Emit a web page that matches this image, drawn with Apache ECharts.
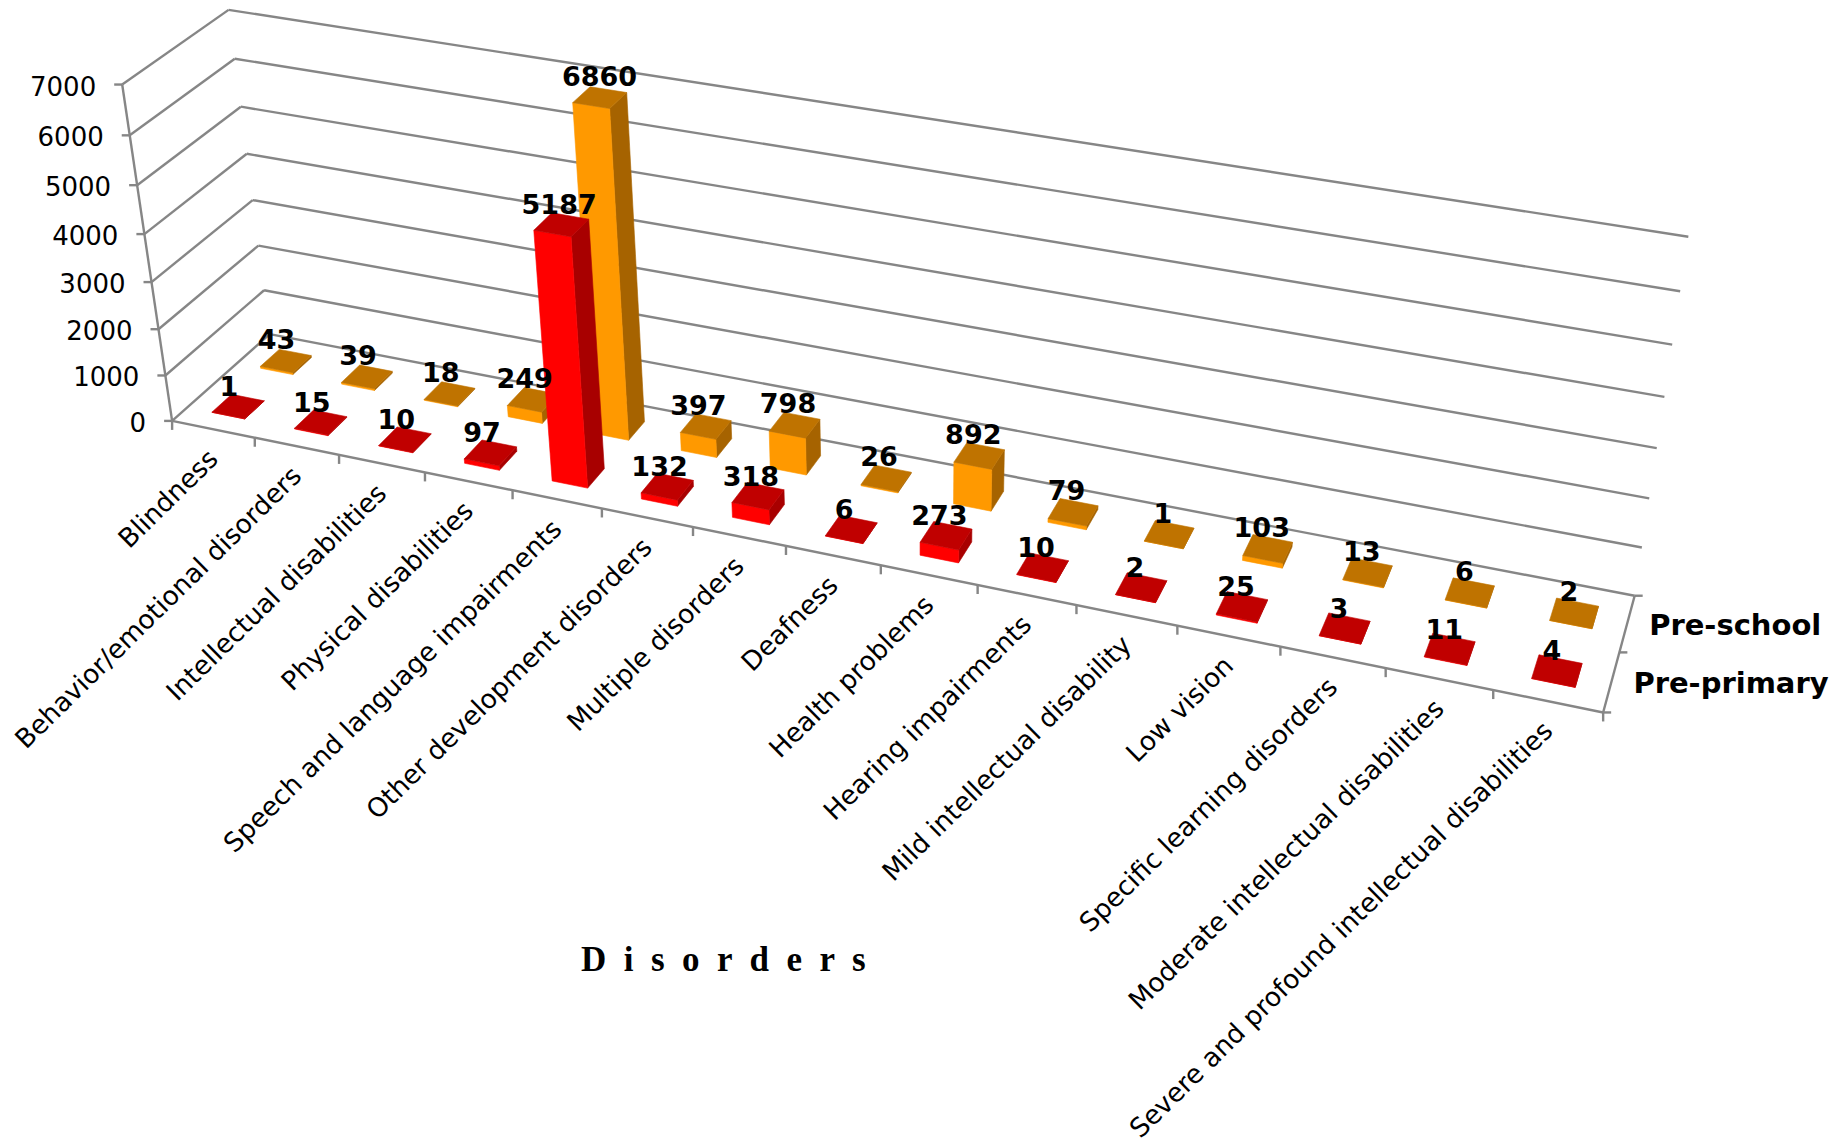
<!DOCTYPE html>
<html>
<head>
<meta charset="utf-8">
<title>Disorders by school level</title>
<script src="https://cdn.jsdelivr.net/npm/echarts@6/dist/echarts.min.js"></script>
<style>html,body{margin:0;padding:0;background:#fff}#chart{width:1837px;height:1144px}</style>
</head>
<body>
<div id="chart"></div>
<script>
const categories = [
  'Blindness', 'Behavior/emotional disorders', 'Intellectual disabilities',
  'Physical disabilities', 'Speech and language impairments',
  'Other development disorders', 'Multiple disorders', 'Deafness',
  'Health problems', 'Hearing impairments', 'Mild intellectual disability',
  'Low vision', 'Specific learning disorders',
  'Moderate intellectual disabilities',
  'Severe and profound intellectual disabilities'
];
const prePrimary = [1, 15, 10, 97, 5187, 132, 318, 6, 273, 10, 2, 25, 3, 11, 4];
const preSchool = [43, 39, 18, 249, 6860, 397, 798, 26, 892, 79, 1, 103, 13, 6, 2];
const valueTicks = [0, 1000, 2000, 3000, 4000, 5000, 6000, 7000];
const depthNames = ['Pre-primary', 'Pre-school'];
const axisTitle = 'D  i  s  o  r  d  e  r  s';

// Box corners of the plot on screen: [along, depth, height] -> [px, py]
const boxAnchors = [
  [[0, 0, 0], [171.7, 420.7]], [[1, 0, 0], [1603.3, 712.3]],
  [[0, 1, 0], [270, 335]], [[1, 1, 0], [1634.3, 596]],
  [[0, 0, 1], [122.3, 85]], [[0, 1, 1], [228.3, 10]], [[1, 1, 1], [1688.3, 236.7]],
  [[0, 0, 3 / 7], [151.7, 282]], [[0, 1, 3 / 7], [252.7, 199]], [[1, 1, 3 / 7], [1657, 448]]
];

// Least-squares fit of a 3x4 camera matrix to the box corners
function fitCamera(anchors) {
  const rows = [], rhs = [];
  anchors.forEach(([[X, Y, Z], [x, y]]) => {
    rows.push([X, Y, Z, 1, 0, 0, 0, 0, -x * X, -x * Y, -x * Z]); rhs.push(x);
    rows.push([0, 0, 0, 0, X, Y, Z, 1, -y * X, -y * Y, -y * Z]); rhs.push(y);
  });
  const n = 11;
  const m = [];
  for (let i = 0; i < n; i++) {
    m[i] = [];
    for (let j = 0; j < n; j++) m[i][j] = rows.reduce((s, r) => s + r[i] * r[j], 0);
    m[i][n] = rows.reduce((s, r, k) => s + r[i] * rhs[k], 0);
  }
  for (let c = 0; c < n; c++) {
    let best = c;
    for (let r = c + 1; r < n; r++) if (Math.abs(m[r][c]) > Math.abs(m[best][c])) best = r;
    [m[c], m[best]] = [m[best], m[c]];
    for (let r = 0; r < n; r++) {
      if (r === c) continue;
      const f = m[r][c] / m[c][c];
      for (let k = c; k <= n; k++) m[r][k] -= f * m[c][k];
    }
  }
  return m.map((row, i) => row[n] / row[i]);
}
const cam = fitCamera(boxAnchors);
function project(u, v, w) {
  const d = cam[8] * u + cam[9] * v + cam[10] * w + 1;
  return [
    (cam[0] * u + cam[1] * v + cam[2] * w + cam[3]) / d,
    (cam[4] * u + cam[5] * v + cam[6] * w + cam[7]) / d
  ];
}

const GRID_LINE = '#868686';
const FONT = '"DejaVu Sans", Verdana, sans-serif';
const FACE = [
  { front: '#FF0000', top: '#C00000', side: '#A80000' },
  { front: '#FF9900', top: '#BF7300', side: '#A66300' }
];
const BAR_HALF = 0.2;      // half bar width, in category bands
const BAR_DEPTH = 0.2;     // bar depth, as part of the whole floor depth

function line(a, b) {
  return {
    type: 'line',
    shape: { x1: a[0], y1: a[1], x2: b[0], y2: b[1] },
    style: { stroke: GRID_LINE, lineWidth: 2.4, fill: null },
    silent: true
  };
}
function face(points, color) {
  return {
    type: 'polygon',
    shape: { points },
    style: { fill: color, stroke: color, lineWidth: 0.6 }
  };
}
// Converts library scale output into box units
function boxPos(params, api, cat, value) {
  const rect = params.coordSys;
  const p = api.coord([cat, value]);
  const band = api.size([1, 0])[0] / rect.width;
  return {
    u: (p[0] - rect.x) / rect.width,
    w: (rect.y + rect.height - p[1]) / rect.height,
    band
  };
}

function renderBar(depthIndex) {
  const colors = FACE[depthIndex];
  return function (params, api) {
    const { u, w, band } = boxPos(params, api, api.value(0), api.value(1));
    const u0 = u - BAR_HALF * band, u1 = u + BAR_HALF * band;
    const vc = (depthIndex + 0.5) / depthNames.length;
    const v0 = vc - BAR_DEPTH / 2, v1 = vc + BAR_DEPTH / 2;
    return {
      type: 'group',
      children: [
        face([project(u1, v0, 0), project(u1, v1, 0), project(u1, v1, w), project(u1, v0, w)], colors.side),
        face([project(u0, v0, 0), project(u1, v0, 0), project(u1, v0, w), project(u0, v0, w)], colors.front),
        face([project(u0, v0, w), project(u1, v0, w), project(u1, v1, w), project(u0, v1, w)], colors.top)
      ]
    };
  };
}
function renderBarLabel(depthIndex) {
  return function (params, api) {
    const { u, w } = boxPos(params, api, api.value(0), api.value(1));
    const v = (depthIndex + 0.5) / depthNames.length;
    const top = project(u, v, w);
    return {
      type: 'text',
      x: top[0] - 10 + 4.5 * u + 8 * w + 0.5,
      y: top[1] - 21.5 + (depthIndex === 0 ? 1.5 : 0),
      style: {
        text: String(api.value(1)),
        font: 'bold 27px ' + FONT,
        fill: '#000',
        align: 'center',
        verticalAlign: 'middle'
      }
    };
  };
}
function renderValueGrid(params, api) {
  const value = api.value(0);
  const { w } = boxPos(params, api, 0, value);
  const fl = project(0, 0, w), bl = project(0, 1, w), br = project(1, 1, w);
  return {
    type: 'group',
    children: [
      line(fl, bl), line(bl, br),
      line([fl[0] - 8, fl[1]], fl),
      {
        type: 'text',
        x: fl[0] - 26,
        y: fl[1] + 2,
        style: {
          text: String(value),
          font: '26px ' + FONT,
          fill: '#000',
          align: 'right',
          verticalAlign: 'middle'
        }
      }
    ]
  };
}
function renderCategory(params, api) {
  const i = api.value(0);
  const { u, band } = boxPos(params, api, i, 0);
  const tickBase = project(u + band / 2, 0, 0);
  const centre = project(u, 0, 0);
  return {
    type: 'group',
    children: [
      line(tickBase, [tickBase[0], tickBase[1] + 9]),
      {
        type: 'text',
        x: centre[0],
        y: centre[1] + 25,
        rotation: 44.5 * Math.PI / 180,
        style: {
          text: categories[i],
          font: '26.4px ' + FONT,
          fill: '#000',
          align: 'right',
          verticalAlign: 'middle'
        }
      }
    ]
  };
}
function renderDepth(params, api) {
  const i = api.value(0);
  const end = project(1, (i + 1) / depthNames.length, 0);
  const mid = project(1, (i + 0.5) / depthNames.length, 0);
  return {
    type: 'group',
    children: [
      line(end, [end[0] + 8, end[1]]),
      {
        type: 'text',
        x: mid[0] + 22,
        y: mid[1] + 1,
        style: {
          text: depthNames[i],
          font: 'bold 29px ' + FONT,
          fill: '#000',
          align: 'left',
          verticalAlign: 'middle'
        }
      }
    ]
  };
}
function renderFrame(params, api) {
  const top = boxPos(params, api, 0, valueTicks[valueTicks.length - 1]).w;
  const fl = project(0, 0, 0), fr = project(1, 0, 0), br = project(1, 1, 0);
  return {
    type: 'group',
    children: [
      line(fl, project(0, 0, top)),
      line(fl, fr), line(fr, br),
      line(fl, [fl[0], fl[1] + 9]),
      line(fr, [fr[0] + 8, fr[1]])
    ]
  };
}

const barSeries = (values, depthIndex) => ({
  type: 'custom',
  name: depthNames[depthIndex],
  z: depthIndex === 0 ? 4 : 3,
  coordinateSystem: 'cartesian2d',
  data: values.map((v, i) => [i, v]),
  renderItem: renderBar(depthIndex)
});
const labelSeries = (values, depthIndex) => ({
  type: 'custom',
  z: 6,
  silent: true,
  coordinateSystem: 'cartesian2d',
  data: values.map((v, i) => [i, v]),
  renderItem: renderBarLabel(depthIndex)
});
const frameSeries = (data, renderItem) => ({
  type: 'custom', z: 1, silent: true, coordinateSystem: 'cartesian2d', data, renderItem
});

const chart = echarts.init(document.getElementById('chart'), null, { renderer: 'svg' });
chart.setOption({
  animation: false,
  backgroundColor: '#fff',
  title: {
    text: axisTitle,
    left: 581,
    top: 942,
    padding: 0,
    textStyle: { fontFamily: '"Liberation Serif", serif', fontWeight: 'bold', fontSize: 35, color: '#000' }
  },
  grid: { left: 0, top: 0, right: 0, bottom: 0 },
  xAxis: { type: 'category', data: categories, show: false },
  yAxis: { type: 'value', min: 0, max: 7000, interval: 1000, show: false },
  series: [
    frameSeries(valueTicks.map(v => [v]), renderValueGrid),
    frameSeries(categories.map((c, i) => [i]), renderCategory),
    frameSeries(depthNames.map((c, i) => [i]), renderDepth),
    frameSeries([[0]], renderFrame),
    // Rear row first so the front row sits over it
    barSeries(preSchool, 1),
    barSeries(prePrimary, 0),
    labelSeries(preSchool, 1),
    labelSeries(prePrimary, 0)
  ]
});
</script>
</body>
</html>
